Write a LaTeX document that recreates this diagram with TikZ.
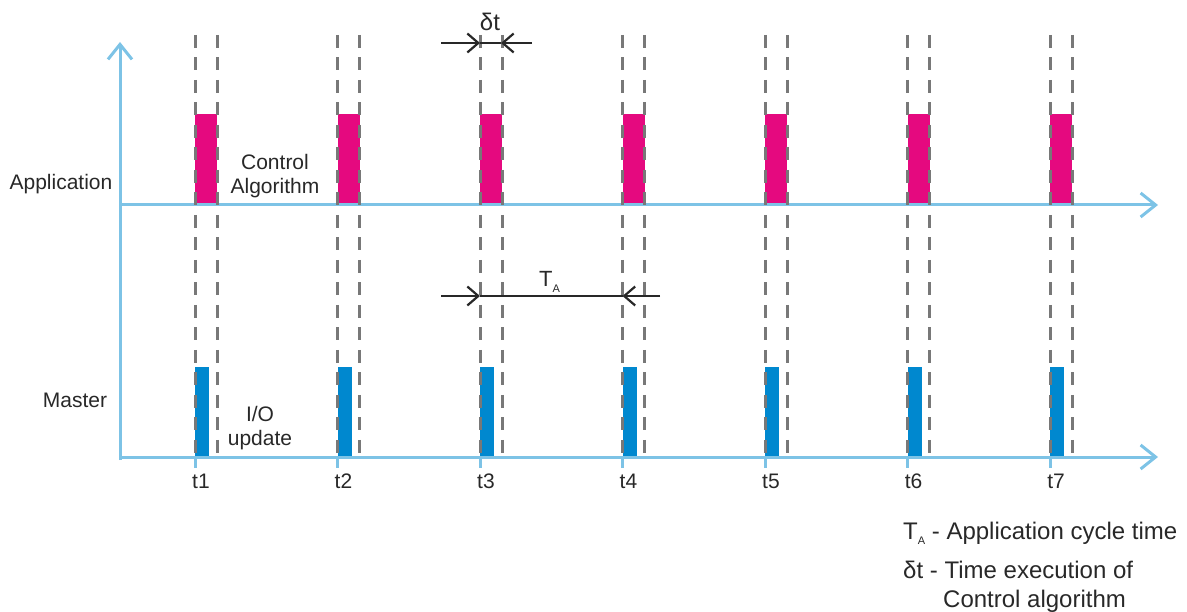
\documentclass[tikz,border=0pt]{standalone}
\usepackage{fontspec}
\setmainfont{Liberation Sans}
\usetikzlibrary{arrows.meta}
\definecolor{axisblue}{RGB}{125,195,230}
\definecolor{appink}{RGB}{229,9,127}
\definecolor{ioblue}{RGB}{0,136,207}
\definecolor{dashgrey}{RGB}{120,120,120}
\definecolor{txt}{RGB}{40,40,40}
\begin{document}
\begin{tikzpicture}[x=1pt,y=-1pt,
  axis/.style={draw=axisblue,line width=3pt,-{Straight Barb[length=15pt,width=24pt]}},
  tick/.style={draw=axisblue,line width=3pt},
  guide/.style={draw=dashgrey,line width=3pt,dash pattern=on 13pt off 9.5pt},
  apprect/.style={fill=appink,draw=none},
  iorect/.style={fill=ioblue,draw=none},
  dim/.style={draw=txt,line width=2.2pt},
  dimarrow/.style={dim,-{Straight Barb[length=11pt,width=19pt]}},
  lbl/.style={text=txt,inner sep=0pt,font=\fontsize{21}{24}\selectfont},
  leg/.style={text=txt,inner sep=0pt,anchor=base west,font=\fontsize{24}{28}\selectfont}
]
\useasboundingbox (0,0) rectangle (1187,612);
% time slots
\foreach \i/\x in {1/195,2/337.5,3/480,4/622.5,5/765,6/907.5,7/1050}{
  \path[apprect] (\x,114) rectangle (\x+22,205);
  \path[iorect] (\x,367) rectangle (\x+14,457);
  \coordinate (tk\i) at (\x,457);
  \coordinate (tkb\i) at (\x,468);
  \node[lbl,anchor=base] (t\i) at (\x+6,489) {t\i};
}
% axes
\coordinate (origin) at (120,460);
\coordinate (ytop) at (120,42);
\coordinate (appstart) at (120,205);
\coordinate (append) at (1158,205);
\coordinate (mstart) at (120,457);
\coordinate (mend) at (1158,457);
\draw[axis] (origin) -- (ytop);
\draw[axis] (appstart) -- (append);
\draw[axis] (mstart) -- (mend);
\foreach \i in {1,...,7}{\draw[tick] (tk\i) -- (tkb\i);}
% dashed guides
\foreach \x in {195,337.5,480,622.5,765,907.5,1050}{
  \draw[guide] (\x,35) -- (\x,460);
  \draw[guide] (\x+22,35) -- (\x+22,460);
}
% delta t dimension
\coordinate (dl) at (441,43);
\coordinate (dla) at (480,43);
\coordinate (dra) at (501,43);
\coordinate (dr) at (532,43);
\draw[dim] (dla) -- (dra);
\draw[dimarrow] (dl) -- (dla);
\draw[dimarrow] (dr) -- (dra);
\node[lbl,anchor=base,font=\fontsize{24}{28}\selectfont] (dtlbl) at (490,31) {δt};
% T_A dimension
\coordinate (tl) at (441,296);
\coordinate (tla) at (480,296);
\coordinate (tra) at (622.5,296);
\coordinate (tr) at (660,296);
\draw[dim] (tla) -- (tra);
\draw[dimarrow] (tl) -- (tla);
\draw[dimarrow] (tr) -- (tra);
\node[lbl,anchor=base west,font=\fontsize{22}{26}\selectfont] (talbl) at (539,287) {T\raisebox{-6pt}{\fontsize{11}{11}\selectfont A}};
% labels
\node[lbl,anchor=base] (applbl) at (61,190) {Application};
\node[lbl,anchor=base] (mlbl) at (75,408) {Master};
\node[lbl,align=center] (ctrl) at (275,176) {Control\\Algorithm};
\node[lbl,align=center] (io) at (260,428) {I/O\\update};
% legend
\node[leg] (leg1) at (903,539) {T\raisebox{-5pt}{\fontsize{11}{11}\selectfont A} - Application cycle time};
\node[leg] (leg2) at (903,578) {δt - Time execution of};
\node[leg] (leg3) at (943,607) {Control algorithm};
\end{tikzpicture}
\end{document}
